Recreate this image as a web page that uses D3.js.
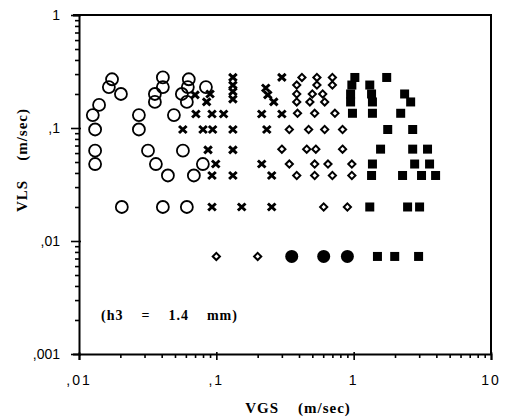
<!DOCTYPE html>
<html>
<head>
<meta charset="utf-8">
<script src="https://cdn.jsdelivr.net/npm/d3@7"></script>
<style>
  body { margin: 0; background: #fff; }
  svg { display: block; }
</style>
</head>
<body>
<div id="chart"></div>
<script>
// points :: [[VGS, VLS]]  (m/sec)
const openCircles = [
  [0.0174, 0.27], [0.0165, 0.23], [0.0202, 0.20], [0.0140, 0.16], [0.0126, 0.13],
  [0.0131, 0.097], [0.0131, 0.063], [0.0131, 0.048], [0.0273, 0.13], [0.0273, 0.097],
  [0.0318, 0.063], [0.0363, 0.048], [0.0444, 0.038], [0.0205, 0.020], [0.0408, 0.28],
  [0.0408, 0.23], [0.0357, 0.20], [0.0357, 0.17], [0.0491, 0.13], [0.063, 0.27],
  [0.062, 0.23], [0.0561, 0.20], [0.061, 0.17], [0.084, 0.23], [0.0571, 0.063],
  [0.0798, 0.048], [0.0686, 0.038], [0.0408, 0.020], [0.061, 0.020]
];

const crosses = [
  [0.070, 0.196], [0.090, 0.20], [0.085, 0.17],
  [0.132, 0.28], [0.132, 0.24], [0.132, 0.21], [0.132, 0.18],
  [0.229, 0.226], [0.237, 0.196], [0.262, 0.17], [0.30, 0.28],
  [0.071, 0.133], [0.093, 0.133], [0.113, 0.133], [0.214, 0.133], [0.30, 0.133],
  [0.057, 0.097], [0.080, 0.097], [0.094, 0.097], [0.132, 0.097], [0.233, 0.097],
  [0.087, 0.064], [0.132, 0.064],
  [0.099, 0.048], [0.214, 0.048],
  [0.093, 0.038], [0.132, 0.038], [0.253, 0.038],
  [0.093, 0.020], [0.153, 0.020], [0.253, 0.020]
];

const diamonds = [
  [0.42, 0.28], [0.54, 0.28], [0.70, 0.28],
  [0.385, 0.24], [0.54, 0.24], [0.70, 0.24],
  [0.385, 0.20], [0.50, 0.20], [0.595, 0.20],
  [0.385, 0.17], [0.48, 0.17], [0.615, 0.17],
  [0.39, 0.135], [0.52, 0.135], [0.73, 0.135],
  [0.34, 0.097], [0.47, 0.097], [0.615, 0.097], [0.83, 0.097],
  [0.30, 0.065], [0.455, 0.065], [0.53, 0.065], [0.83, 0.065],
  [0.34, 0.048], [0.52, 0.048], [0.65, 0.048], [0.97, 0.048],
  [0.385, 0.038], [0.52, 0.038], [0.70, 0.038], [0.97, 0.038],
  [0.605, 0.020], [0.90, 0.020],
  [0.10, 0.0073], [0.20, 0.0073]
];

const squares = [
  [1.02, 0.28], [0.97, 0.24], [0.95, 0.20], [0.95, 0.17],
  [1.31, 0.24], [1.35, 0.20], [1.37, 0.17],
  [1.74, 0.28], [2.35, 0.20], [2.60, 0.17],
  [0.98, 0.135], [1.37, 0.135], [2.2, 0.135],
  [1.77, 0.097], [2.69, 0.097],
  [1.57, 0.065], [2.69, 0.065], [3.45, 0.065],
  [1.37, 0.048], [2.78, 0.048], [3.57, 0.048],
  [1.35, 0.038], [2.27, 0.038], [3.12, 0.038], [3.95, 0.038],
  [1.31, 0.020], [2.47, 0.020], [3.02, 0.020],
  [1.49, 0.0073], [1.99, 0.0073], [2.97, 0.0073]
];

const filledCircles = [[0.354, 0.0073], [0.605, 0.0073], [0.90, 0.0073]];

const xMajor = [0.01, 0.1, 1, 10];
const xMajorLabels = [',01', ',1', '1', '10'];
const yMajor = [0.001, 0.01, 0.1, 1];
const yMajorLabels = [',001', ',01', ',1', '1'];

const width = 507;
const height = 418;
const margin = {top: 15, right: 15, bottom: 64, left: 79};

const svg = d3.select('#chart')
  .append('svg')
  .attr('width', width)
  .attr('height', height);

const x = d3.scaleLog()
  .domain([0.01, 10])
  .range([margin.left, width - margin.right - 1]);

const y = d3.scaleLog()
  .domain([0.001, 1])
  .range([height - margin.bottom, margin.top]);

const isMajor = v => xMajor.concat(yMajor).some(m => Math.abs(v / m - 1) < 1e-6);

// frame (top + right)
svg.append('path')
  .attr('d', `M${x(0.01) - 6},${y(1)}H${x(10)}V${y(0.001)}`)
  .attr('fill', 'none')
  .attr('stroke', '#000')
  .attr('stroke-width', 2);

// x axis
const gx = svg.append('g')
  .attr('transform', `translate(0,${y(0.001)})`)
  .call(d3.axisBottom(x).ticks(10).tickFormat(''));
gx.select('.domain').attr('stroke-width', 2);
gx.selectAll('.tick line')
  .attr('stroke-width', 1.6)
  .attr('y1', d => (isMajor(d) ? -2 : 0))
  .attr('y2', d => (isMajor(d) ? 6 : 4));
gx.selectAll('.tick text').remove();

svg.append('g')
  .selectAll('text')
  .data(xMajor)
  .enter()
  .append('text')
  .attr('x', d => x(d))
  .attr('y', y(0.001) + 31)
  .attr('text-anchor', 'middle')
  .attr('font-family', 'Liberation Sans, Arial, sans-serif')
  .attr('font-size', 14)
  .attr('letter-spacing', 2)
  .text((d, i) => xMajorLabels[i]);

// y axis
const gy = svg.append('g')
  .attr('transform', `translate(${x(0.01)},0)`)
  .call(d3.axisLeft(y).ticks(10).tickFormat(''));
gy.select('.domain').attr('stroke-width', 2);
gy.selectAll('.tick line')
  .attr('stroke-width', 1.6)
  .attr('x1', d => (isMajor(d) ? 2 : 0))
  .attr('x2', d => (isMajor(d) ? -8 : -4));
gy.selectAll('.tick text').remove();

svg.append('g')
  .selectAll('text')
  .data(yMajor)
  .enter()
  .append('text')
  .attr('x', x(0.01) - 19)
  .attr('y', d => y(d) + 5)
  .attr('text-anchor', 'end')
  .attr('font-family', 'Liberation Sans, Arial, sans-serif')
  .attr('font-size', 14)
  .text((d, i) => yMajorLabels[i]);

// axis titles
svg.append('text')
  .attr('x', 298)
  .attr('y', 413)
  .attr('text-anchor', 'middle')
  .attr('font-family', 'Liberation Serif, Times New Roman, serif')
  .attr('font-weight', 'bold')
  .attr('font-size', 15)
  .attr('letter-spacing', 1)
  .style('white-space', 'pre')
  .text('VGS    (m/sec)');

svg.append('text')
  .attr('transform', 'translate(27,160) rotate(-90)')
  .attr('text-anchor', 'middle')
  .attr('font-family', 'Liberation Serif, Times New Roman, serif')
  .attr('font-weight', 'bold')
  .attr('font-size', 15)
  .attr('letter-spacing', 1)
  .style('white-space', 'pre')
  .text('VLS    (m/sec)');

svg.append('text')
  .attr('x', 101)
  .attr('y', 320)
  .attr('font-family', 'Liberation Serif, Times New Roman, serif')
  .attr('font-weight', 'bold')
  .attr('font-size', 14)
  .attr('letter-spacing', 1)
  .style('white-space', 'pre')
  .text('(h3    =    1.4    mm)');

// marks
const marks = svg.append('g');

marks.selectAll('.oc')
  .data(openCircles)
  .enter()
  .append('circle')
  .attr('cx', d => x(d[0]))
  .attr('cy', d => y(d[1]))
  .attr('r', 6)
  .attr('fill', 'none')
  .attr('stroke', '#000')
  .attr('stroke-width', 1.8);

marks.selectAll('.cr')
  .data(crosses)
  .enter()
  .append('path')
  .attr('transform', d => `translate(${x(d[0])},${y(d[1])})`)
  .attr('d', 'M-3.8,-3.5L3.8,3.5M3.8,-3.5L-3.8,3.5')
  .attr('fill', 'none')
  .attr('stroke', '#000')
  .attr('stroke-width', 3);

marks.selectAll('.dm')
  .data(diamonds)
  .enter()
  .append('path')
  .attr('transform', d => `translate(${x(d[0])},${y(d[1])})`)
  .attr('d', 'M0,-3.6L3.6,0L0,3.6L-3.6,0Z')
  .attr('fill', '#fff')
  .attr('stroke', '#000')
  .attr('stroke-width', 2);

marks.selectAll('.sq')
  .data(squares)
  .enter()
  .append('rect')
  .attr('x', d => x(d[0]) - 4.5)
  .attr('y', d => y(d[1]) - 4.5)
  .attr('width', 9)
  .attr('height', 9)
  .attr('fill', '#000');

marks.selectAll('.fc')
  .data(filledCircles)
  .enter()
  .append('circle')
  .attr('cx', d => x(d[0]))
  .attr('cy', d => y(d[1]))
  .attr('r', 6.5)
  .attr('fill', '#000');
</script>
</body>
</html>
